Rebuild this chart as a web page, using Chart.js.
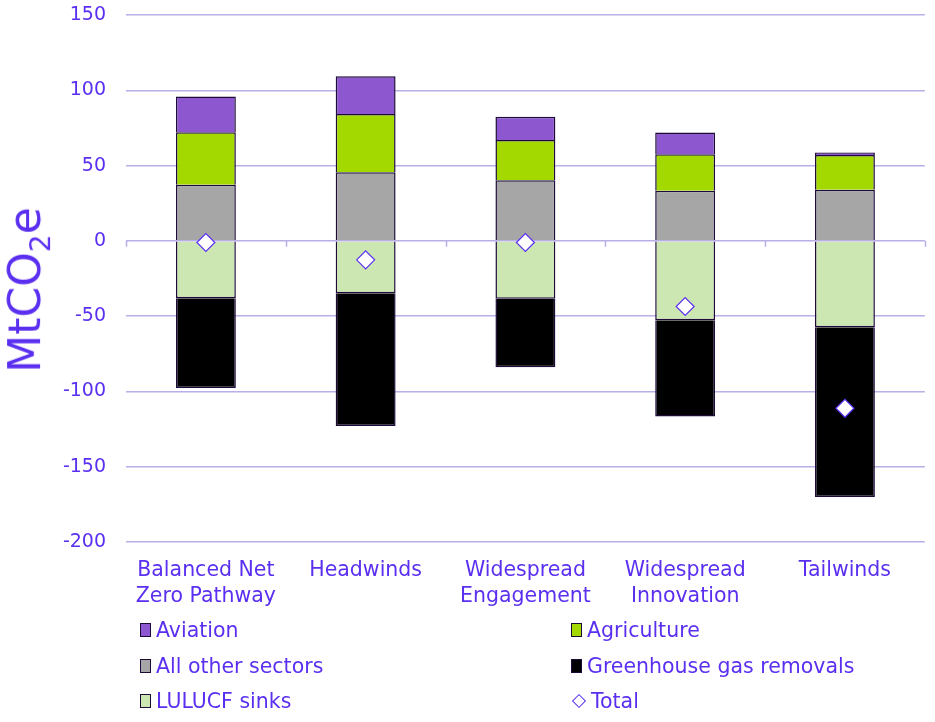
<!DOCTYPE html>
<html>
<head>
<meta charset="utf-8">
<script src="https://cdn.jsdelivr.net/npm/chart.js@4.4.1/dist/chart.umd.min.js"></script>
<style>
  body { margin: 0; background: #fff; }
  #wrap { position: relative; width: 935px; height: 722px; font-family: 'DejaVu Sans', sans-serif; color: #5a2ff0; }
  #yTitle { position: absolute; left: 28px; top: 290px; transform: translate(-50%, -50%) rotate(-90deg); font-size: 44px; white-space: nowrap; }
  #yTitle sub { font-size: 28px; }
  .leg { position: absolute; font-size: 20.5px; display: flex; align-items: center; white-space: nowrap; }
  .leg .box { width: 9px; height: 12px; border: 1.5px solid #1c0a38; margin-right: 5px; }
  .leg .dia { width: 8px; height: 8px; border: 1px solid #5a2ff0; background: #fff; transform: rotate(45deg); margin: 0 7px 0 3px; }
</style>
</head>
<body>
<div id="wrap">
  <canvas id="chart" width="935" height="722"></canvas>
  <div id="yTitle">MtCO<sub>2</sub>e</div>
  <div id="legend"></div>
</div>
<script>
// Scenario data (MtCO2e)
const scenarios = [
  ['Balanced Net', 'Zero Pathway'],
  'Headwinds',
  ['Widespread', 'Engagement'],
  ['Widespread', 'Innovation'],
  'Tailwinds'
];
const otherSectors = [37.2, 45.6, 40.3, 33.2, 33.9];
const agriculture = [35.0, 38.6, 26.6, 24.4, 23.2];
const aviation = [23.7, 25.2, 15.5, 14.4, 1.5];
const lulucfSinks = [-38.1, -34.8, -38.5, -52.7, -57.3];
const ggRemovals = [-59.6, -88.1, -45.4, -64.0, -112.8];
const totals = [-1.1, -12.6, -1.1, -43.6, -111.2];
const yTicks = [150, 100, 50, 0, -50, -100, -150, -200];

const textColor = '#5a2ff0';
const gridColor = '#b9aee8';
const edge = '#1c0a38';

function barSet(label, data, color) {
  return {
    type: 'bar',
    label: label,
    data: data,
    backgroundColor: color,
    borderColor: edge,
    borderWidth: 1.5,
    categoryPercentage: 1,
    barPercentage: 0.375,
    stack: 'sectors',
    order: 1
  };
}

// little tick marks hanging off the zero line between categories
const zeroTicks = {
  id: 'zeroTicks',
  beforeDatasetsDraw(chart) {
    const x = chart.scales.x, y = chart.scales.y;
    const y0 = y.getPixelForValue(0);
    const ctx = chart.ctx;
    const step = (x.right - x.left) / scenarios.length;
    ctx.save();
    ctx.strokeStyle = gridColor;
    ctx.lineWidth = 1.5;
    ctx.beginPath();
    for (let i = 0; i <= scenarios.length; i++) {
      const px = Math.round(x.left + i * step) + 0.5;
      ctx.moveTo(px, y0);
      ctx.lineTo(px, y0 + 6);
    }
    ctx.stroke();
    ctx.restore();
  }
};

const ctx = document.getElementById('chart').getContext('2d');
const chart = new Chart(ctx, {
  data: {
    labels: scenarios,
    datasets: [
      barSet('All other sectors', otherSectors, '#a6a6a6'),
      barSet('Agriculture', agriculture, '#a4d900'),
      barSet('Aviation', aviation, '#8d58cf'),
      barSet('LULUCF sinks', lulucfSinks, '#cde7b3'),
      barSet('Greenhouse gas removals', ggRemovals, '#000000'),
      {
        type: 'line',
        label: 'Total',
        data: totals,
        showLine: false,
        pointStyle: 'rectRot',
        pointRadius: 9,
        pointBackgroundColor: '#ffffff',
        pointBorderColor: textColor,
        pointBorderWidth: 1.2,
        stack: 'total',
        order: 0
      }
    ]
  },
  plugins: [zeroTicks],
  options: {
    responsive: false,
    animation: false,
    layout: { padding: { top: 15, right: 9, left: 0, bottom: 0 } },
    plugins: {
      legend: { display: false },
      tooltip: { enabled: false }
    },
    scales: {
      x: {
        stacked: true,
        grid: { display: false },
        border: { display: false },
        ticks: {
          color: textColor,
          padding: 8,
          maxRotation: 0,
          font: { family: "'DejaVu Sans', sans-serif", size: 20.5, lineHeight: 1.27 }
        },
        afterFit: s => { s.height = 180; }
      },
      y: {
        stacked: true,
        min: -200,
        max: 150,
        afterBuildTicks: s => { s.ticks = yTicks.map(v => ({ value: v })); },
        grid: { color: gridColor, lineWidth: 1.5, drawTicks: false },
        border: { display: false },
        ticks: {
          color: textColor,
          padding: 20,
          font: { family: "'DejaVu Sans', sans-serif", size: 19 }
        },
        afterFit: s => {
          s.width = 126;
          s.paddingTop = 0;
          s.paddingBottom = 0;
        }
      }
    }
  }
});

// Legend in two columns, like the original
const legendItems = [
  { label: 'Aviation', color: '#8d58cf', col: 0, row: 0 },
  { label: 'Agriculture', color: '#a4d900', col: 1, row: 0 },
  { label: 'All other sectors', color: '#a6a6a6', col: 0, row: 1 },
  { label: 'Greenhouse gas removals', color: '#000000', col: 1, row: 1 },
  { label: 'LULUCF sinks', color: '#cde7b3', col: 0, row: 2 },
  { label: 'Total', color: null, col: 1, row: 2 }
];
const legendEl = document.getElementById('legend');
legendItems.forEach(item => {
  const d = document.createElement('div');
  d.className = 'leg';
  d.style.left = (item.col === 0 ? 140 : 571) + 'px';
  d.style.top = (618 + item.row * 35.5) + 'px';
  const mark = document.createElement('span');
  if (item.color) {
    mark.className = 'box';
    mark.style.background = item.color;
  } else {
    mark.className = 'dia';
  }
  d.appendChild(mark);
  d.appendChild(document.createTextNode(item.label));
  legendEl.appendChild(d);
});
</script>
</body>
</html>
